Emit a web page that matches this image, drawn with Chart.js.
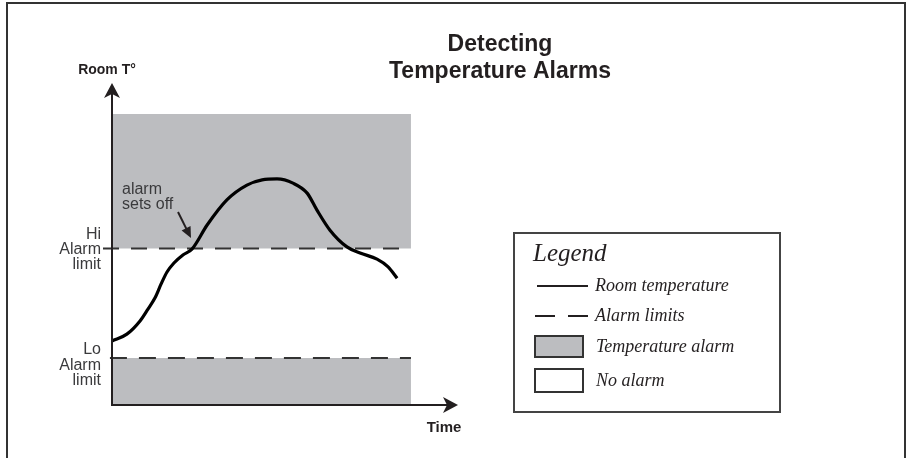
<!DOCTYPE html>
<html>
<head>
<meta charset="utf-8">
<script src="https://cdn.jsdelivr.net/npm/chart.js@4/dist/chart.umd.min.js"></script>
<style>
html,body{margin:0;padding:0;background:#fff;}
canvas{display:block;}
</style>
</head>
<body>
<canvas id="c" width="909" height="458"></canvas>
<script>
// ---- data (arbitrary units: time 0-100, temperature 0-100) ----
const curveTime = [0, 4.3, 8.1, 10.4, 12.4, 14.2, 15.9, 17.9, 20.5, 23.1, 27.5, 33.2, 39.0, 43.4, 47.7, 52.3, 56.4, 59.2, 63.0, 67.9, 71.7, 76.6, 79.8, 82.4];
const curveTemp = [19.9, 22.0, 26.1, 29.8, 33.2, 37.6, 41.3, 44.1, 46.6, 48.4, 55.9, 63.7, 68.3, 69.9, 70.2, 68.9, 65.8, 60.6, 54.3, 49.1, 47.2, 45.3, 42.9, 39.4];
const hiLimit = 48.6;
const loLimit = 14.6;
const bandTop = 90.4;
const bandEnd = 86.4;
const hiLineStart = -2.6;
const loLineStart = -0.6;
const legendLabels = ["Room temperature", "Alarm limits", "Temperature alarm", "No alarm"];
const titleLines = ["Detecting", "Temperature Alarms"];

const GRAY = '#bcbdc0';
const INK = '#231f20';

const curveData = curveTime.map((t, i) => ({x: t, y: curveTemp[i]}));

const decor = {
  id: 'decor',
  afterDatasetsDraw(chart) {
    const ctx = chart.ctx;
    const xs = chart.scales.x, ys = chart.scales.y;
    const x0 = xs.getPixelForValue(0), y0 = ys.getPixelForValue(0);
    const xEnd = xs.getPixelForValue(100), yEnd = ys.getPixelForValue(100);
    ctx.save();
    // axes
    ctx.strokeStyle = INK; ctx.fillStyle = INK; ctx.lineWidth = 2;
    ctx.beginPath();
    ctx.moveTo(x0, y0 + 1); ctx.lineTo(x0, yEnd + 10);
    ctx.moveTo(x0 - 1, y0); ctx.lineTo(xEnd - 10, y0);
    ctx.stroke();
    // y arrow
    ctx.beginPath();
    ctx.moveTo(x0, yEnd); ctx.lineTo(x0 + 8, yEnd + 15); ctx.lineTo(x0, yEnd + 11); ctx.lineTo(x0 - 8, yEnd + 15); ctx.closePath(); ctx.fill();
    // x arrow
    ctx.beginPath();
    ctx.moveTo(xEnd, y0); ctx.lineTo(xEnd - 15, y0 - 8); ctx.lineTo(xEnd - 11, y0); ctx.lineTo(xEnd - 15, y0 + 8); ctx.closePath(); ctx.fill();

    // titles
    ctx.fillStyle = INK;
    ctx.textAlign = 'center'; ctx.textBaseline = 'middle';
    ctx.font = 'bold 23px "Liberation Sans", Arial, sans-serif';
    ctx.fillText(titleLines[0], 500, 45);
    ctx.fillText(titleLines[1], 500, 72);
    ctx.font = 'bold 14px "Liberation Sans", Arial, sans-serif';
    ctx.fillText('Room T°', 107, 70);
    ctx.font = 'bold 15px "Liberation Sans", Arial, sans-serif';
    ctx.fillText('Time', 444, 428);

    // limit labels
    ctx.fillStyle = '#3a3a3c';
    ctx.font = '16px "Liberation Sans", Arial, sans-serif';
    ctx.textAlign = 'right';
    const hiY = ys.getPixelForValue(hiLimit), loY = ys.getPixelForValue(loLimit);
    ctx.fillText('Hi', 101, hiY - 14);
    ctx.fillText('Alarm', 101, hiY + 1);
    ctx.fillText('limit', 101, hiY + 16);
    ctx.fillText('Lo', 101, loY - 8);
    ctx.fillText('Alarm', 101, loY + 8);
    ctx.fillText('limit', 101, loY + 23);

    // annotation
    ctx.textAlign = 'left';
    ctx.fillText('alarm', 122, 190);
    ctx.fillText('sets off', 122, 205);
    ctx.strokeStyle = INK; ctx.fillStyle = INK; ctx.lineWidth = 2;
    const ax1 = 178, ay1 = 212, ax2 = 191, ay2 = 238;
    const ang = Math.atan2(ay2 - ay1, ax2 - ax1);
    ctx.beginPath(); ctx.moveTo(ax1, ay1);
    ctx.lineTo(ax2 - 8 * Math.cos(ang), ay2 - 8 * Math.sin(ang)); ctx.stroke();
    ctx.beginPath();
    ctx.moveTo(ax2, ay2);
    ctx.lineTo(ax2 - 11 * Math.cos(ang) + 5 * Math.sin(ang), ay2 - 11 * Math.sin(ang) - 5 * Math.cos(ang));
    ctx.lineTo(ax2 - 11 * Math.cos(ang) - 5 * Math.sin(ang), ay2 - 11 * Math.sin(ang) + 5 * Math.cos(ang));
    ctx.closePath(); ctx.fill();

    // legend
    ctx.strokeStyle = '#444'; ctx.lineWidth = 2;
    ctx.strokeRect(514, 233, 266, 179);
    ctx.fillStyle = INK;
    ctx.textAlign = 'left'; ctx.textBaseline = 'middle';
    ctx.font = 'italic 25px "Liberation Serif", "Times New Roman", serif';
    ctx.fillText('Legend', 533, 254);
    ctx.font = 'italic 18px "Liberation Serif", "Times New Roman", serif';
    ctx.strokeStyle = INK;
    ctx.beginPath(); ctx.moveTo(537, 286); ctx.lineTo(588, 286); ctx.stroke();
    ctx.fillText(legendLabels[0], 595, 286);
    ctx.beginPath(); ctx.moveTo(535, 316); ctx.lineTo(555, 316); ctx.moveTo(568, 316); ctx.lineTo(588, 316); ctx.stroke();
    ctx.fillText(legendLabels[1], 595, 316);
    ctx.fillStyle = GRAY; ctx.fillRect(535, 336, 48, 21);
    ctx.strokeStyle = '#333'; ctx.strokeRect(535, 336, 48, 21);
    ctx.fillStyle = INK; ctx.fillText(legendLabels[2], 596, 347);
    ctx.strokeRect(535, 369, 48, 23);
    ctx.fillText(legendLabels[3], 596, 381);

    // outer frame
    ctx.strokeStyle = '#333'; ctx.lineWidth = 2;
    ctx.beginPath();
    ctx.moveTo(7, 460); ctx.lineTo(7, 3); ctx.lineTo(905, 3); ctx.lineTo(905, 460);
    ctx.stroke();
    ctx.restore();
  }
};

new Chart(document.getElementById('c'), {
  type: 'line',
  data: {
    datasets: [
      {label: 'Room temperature', data: curveData, borderColor: '#000', borderWidth: 3.2,
       pointRadius: 0, cubicInterpolationMode: 'monotone', fill: false, clip: false},
      {label: 'Hi alarm limit', data: [{x: hiLineStart, y: hiLimit}, {x: bandEnd, y: hiLimit}],
       borderColor: '#333', borderWidth: 2, borderDash: [16, 12], pointRadius: 0, fill: false, clip: false},
      {label: 'Lo alarm limit', data: [{x: loLineStart, y: loLimit}, {x: bandEnd, y: loLimit}],
       borderColor: '#333', borderWidth: 2, borderDash: [17, 12], pointRadius: 0, fill: false, clip: false},
      {label: 'High alarm zone', data: [{x: 0, y: bandTop}, {x: bandEnd, y: bandTop}],
       borderWidth: 0, borderColor: 'rgba(0,0,0,0)', backgroundColor: GRAY, pointRadius: 0, fill: {value: hiLimit}},
      {label: 'Low alarm zone', data: [{x: 0, y: loLimit}, {x: bandEnd, y: loLimit}],
       borderWidth: 0, borderColor: 'rgba(0,0,0,0)', backgroundColor: GRAY, pointRadius: 0, fill: {value: 0}}
    ]
  },
  options: {
    responsive: false,
    devicePixelRatio: 1,
    animation: false,
    layout: {padding: {left: 112, right: 451, top: 83, bottom: 53}},
    scales: {
      x: {type: 'linear', min: 0, max: 100, display: false},
      y: {type: 'linear', min: 0, max: 100, display: false}
    },
    plugins: {legend: {display: false}, tooltip: {enabled: false}, title: {display: false}}
  },
  plugins: [decor]
});
</script>
</body>
</html>
